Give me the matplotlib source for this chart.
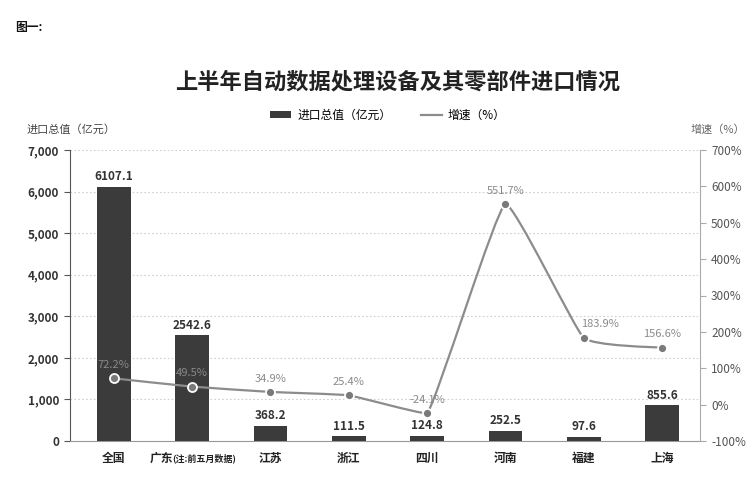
import matplotlib

matplotlib.use("Agg")
import matplotlib.pyplot as plt
import numpy as np
from matplotlib.lines import Line2D
from matplotlib.patches import Patch, PathPatch
from matplotlib.path import Path

plt.rcParams["font.family"] = ["Noto Sans CJK SC", "DejaVu Sans"]

categories = ["全国", "广东", "江苏", "浙江", "四川", "河南", "福建", "上海"]
import_value = [6107.1, 2542.6, 368.2, 111.5, 124.8, 252.5, 97.6, 855.6]
growth = [72.2, 49.5, 34.9, 25.4, -24.1, 551.7, 183.9, 156.6]
left_ticks = [0, 1000, 2000, 3000, 4000, 5000, 6000, 7000]
right_ticks = [-100, 0, 100, 200, 300, 400, 500, 600, 700]

BAR = "#3b3b3b"
LINE = "#8c8c8c"
MARK = "#7a7a7a"
# label nudges (points) so the 福建 label clears the line
LABEL_DX = {6: 12}


def smooth_path(xs, ys, k=0.06):
    # light bezier smoothing of the growth line, control points clamped per segment
    verts = [(xs[0], ys[0])]
    codes = [Path.MOVETO]
    n = len(xs)
    for i in range(n - 1):
        p0 = i - 1 if i > 0 else i
        p3 = i + 2 if i + 2 < n else i + 1
        c1x = xs[i] + k * (xs[i + 1] - xs[p0])
        c1y = ys[i] + k * (ys[i + 1] - ys[p0])
        c2x = xs[i + 1] - k * (xs[p3] - xs[i])
        c2y = ys[i + 1] - k * (ys[p3] - ys[i])
        lo, hi = min(ys[i], ys[i + 1]), max(ys[i], ys[i + 1])
        c1y = min(max(c1y, lo), hi)
        c2y = min(max(c2y, lo), hi)
        verts += [(c1x, c1y), (c2x, c2y), (xs[i + 1], ys[i + 1])]
        codes += [Path.CURVE4] * 3
    return Path(verts, codes)


fig = plt.figure(figsize=(7.53, 4.8), dpi=100)

ax = fig.add_axes([70 / 753, 39 / 480, 630 / 753, 291 / 480])
ax.set_facecolor("none")
x = np.arange(len(categories))

ax.bar(x, import_value, width=0.43, color=BAR, zorder=3)
for xi, v in zip(x, import_value):
    ax.text(xi, v + 90, f"{v:.1f}", ha="center", va="bottom", fontsize=8.5,
            fontweight="bold", color="#333333", zorder=6)

ax.set_xlim(-0.56, len(categories) - 0.515)
ax.set_ylim(0, 7000)
ax.set_yticks(left_ticks)
ax.set_yticklabels([f"{t:,}" for t in left_ticks], fontsize=8.5, fontweight="bold", color="#333333")
ax.yaxis.grid(True, linestyle=(0, (1.5, 2)), color="#cfcfcf", linewidth=0.8)
ax.set_axisbelow(True)
ax.tick_params(axis="y", length=4, color="#555555", pad=4)
ax.tick_params(axis="x", length=0, pad=8)
ax.set_xticks(x)
labels = list(categories)
labels[1] = ""
ax.set_xticklabels(labels, fontsize=8.5, fontweight="bold", color="#222222")
ax.spines["top"].set_visible(False)
ax.spines["right"].set_visible(False)
ax.spines["left"].set_color("#555555")
ax.spines["bottom"].set_color("#999999")

# 广东 label with smaller note
ax.annotate("广东", xy=(1, 0), xycoords=("data", "axes fraction"), xytext=(-14, -8),
            textcoords="offset points", ha="right", va="top", fontsize=8.5,
            fontweight="bold", color="#222222")
ax.annotate("(注:前五月数据)", xy=(1, 0), xycoords=("data", "axes fraction"), xytext=(-14, -9),
            textcoords="offset points", ha="left", va="top", fontsize=6.5,
            fontweight="bold", color="#222222")

ax2 = ax.twinx()
ax2.set_ylim(-100, 700)
ax2.set_yticks(right_ticks)
ax2.set_yticklabels([f"{t}%" for t in right_ticks], fontsize=8.5, color="#555555")
ax2.tick_params(axis="y", length=4, color="#aaaaaa", pad=4)
for s in ["top", "left", "bottom"]:
    ax2.spines[s].set_visible(False)
ax2.spines["right"].set_color("#aaaaaa")

ax2.add_patch(PathPatch(smooth_path(list(x.astype(float)), growth), facecolor="none",
                        edgecolor=LINE, linewidth=1.6, zorder=4))
ax2.plot(x, growth, linestyle="none", marker="o", markersize=6.5, markerfacecolor=MARK,
         markeredgecolor="white", markeredgewidth=1.3, zorder=5)
for i, (xi, g) in enumerate(zip(x, growth)):
    ax2.annotate(f"{g}%", xy=(xi, g), xytext=(LABEL_DX.get(i, 0), 6), textcoords="offset points",
                 ha="center", va="bottom", fontsize=8, color="#8a8a8a", zorder=6)

fig.text(15 / 753, 1 - 28 / 480, "图一:", fontsize=8.5, fontweight="bold", color="#111111",
         ha="left", va="center")
fig.text(398 / 753, 1 - 82 / 480, "上半年自动数据处理设备及其零部件进口情况", fontsize=16,
         fontweight="bold", color="#222222", ha="center", va="center")
fig.text(27 / 753, 1 - 129 / 480, "进口总值（亿元）", fontsize=8, color="#444444",
         ha="left", va="center")
fig.text(745 / 753, 1 - 129 / 480, "增速（%）", fontsize=8, color="#666666",
         ha="right", va="center")

handles = [Patch(facecolor=BAR, edgecolor="none"), Line2D([], [], color=LINE, linewidth=1.6)]
fig.legend(handles, ["进口总值（亿元）", "增速（%）"], loc="center", ncol=2,
           bbox_to_anchor=(388 / 753, 1 - 115 / 480), frameon=False, fontsize=8.5,
           handlelength=1.8, handleheight=0.6, columnspacing=2.5, handletextpad=0.5)

fig.savefig("out.png", dpi=100)
